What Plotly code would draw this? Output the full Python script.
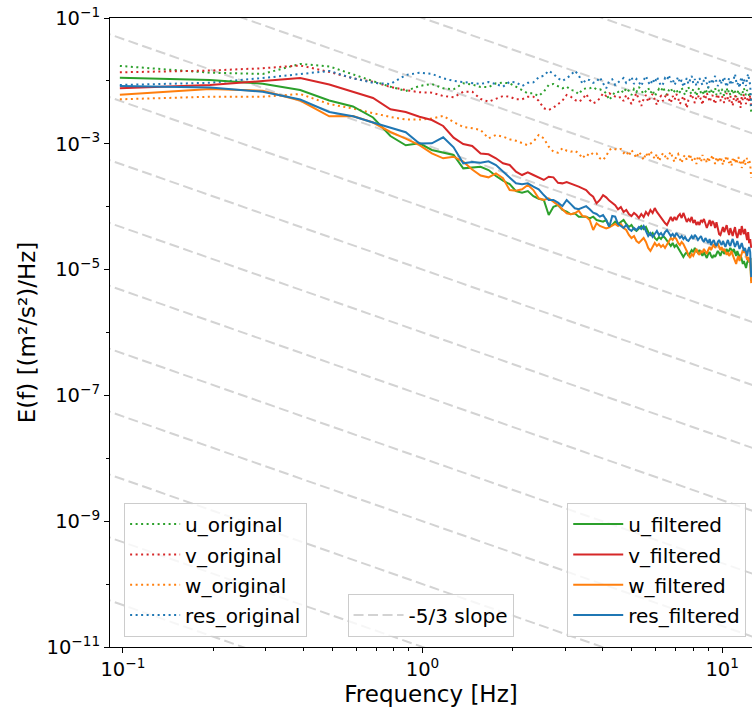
import plotly.graph_objects as go

# ---------------- data ----------------
FREQ_HZ = [
    0.0977, 0.1953, 0.2930, 0.3906, 0.4883, 0.5859, 0.6836, 0.7813, 0.8789, 0.9766,
    1.0742, 1.1719, 1.2695, 1.3672, 1.4648, 1.5625, 1.6602, 1.7578, 1.8555, 1.9531,
    2.0508, 2.1484, 2.2461, 2.3438, 2.4414, 2.5391, 2.6367, 2.7344, 2.8320, 2.9297,
    3.0273, 3.1250, 3.2227, 3.3203, 3.4180, 3.5156, 3.6133, 3.7109, 3.8086, 3.9063,
    4.0039, 4.1016, 4.1992, 4.2969, 4.3945, 4.4922, 4.5898, 4.6875, 4.7852, 4.8828,
    4.9805, 5.0781, 5.1758, 5.2734, 5.3711, 5.4688, 5.5664, 5.6641, 5.7617, 5.8594,
    5.9570, 6.0547, 6.1523, 6.2500, 6.3477, 6.4453, 6.5430, 6.6406, 6.7383, 6.8359,
    6.9336, 7.0313, 7.1289, 7.2266, 7.3242, 7.4219, 7.5195, 7.6172, 7.7148, 7.8125,
    7.9102, 8.0078, 8.1055, 8.2031, 8.3008, 8.3984, 8.4961, 8.5938, 8.6914, 8.7891,
    8.8867, 8.9844, 9.0820, 9.1797, 9.2773, 9.3750, 9.4727, 9.5703, 9.6680, 9.7656,
    9.8633, 9.9609, 10.0586, 10.1563, 10.2539, 10.3516, 10.4492, 10.5469, 10.6445, 10.7422,
    10.8398, 10.9375, 11.0352, 11.1328, 11.2305, 11.3281, 11.4258, 11.5234, 11.6211, 11.7188,
    11.8164, 11.9141, 12.0117, 12.1094, 12.2070, 12.3047, 12.4023, 12.5000,
]

U_ORIGINAL = [
    1.73e-2, 1.35e-2, 1.29e-2, 1.86e-2, 1.70e-2, 1.29e-2, 9.93e-3, 8.09e-3, 6.91e-3, 8.30e-3,
    8.93e-3, 7.63e-3, 7.35e-3, 9.16e-3, 8.77e-3, 8.01e-3, 7.96e-3, 9.16e-3, 9.37e-3, 9.16e-3,
    8.09e-3, 7.17e-3, 6.35e-3, 6.35e-3, 5.75e-3, 6.74e-3, 8.61e-3, 8.93e-3, 8.30e-3, 7.63e-3,
    8.09e-3, 7.17e-3, 6.99e-3, 6.12e-3, 7.35e-3, 7.63e-3, 7.63e-3, 7.96e-3, 7.35e-3, 7.35e-3,
    6.99e-3, 6.35e-3, 4.97e-3, 5.75e-3, 6.74e-3, 6.65e-3,
    7.17e-3, 6.42e-3, 7.72e-3, 6.91e-3, 5.97e-3, 7.44e-3, 6.66e-3, 8.01e-3, 7.17e-3,
    6.19e-3, 6.91e-3, 7.72e-3, 6.42e-3, 7.17e-3, 5.75e-3, 6.66e-3, 7.44e-3, 6.91e-3,
    8.01e-3, 6.66e-3, 5.97e-3, 7.17e-3, 7.72e-3, 6.42e-3, 6.91e-3, 7.44e-3, 6.19e-3, 6.66e-3, 7.72e-3,
    6.91e-3, 5.97e-3, 7.17e-3, 8.01e-3, 6.66e-3, 6.19e-3, 7.44e-3, 6.91e-3, 5.75e-3, 7.17e-3,
    7.72e-3, 6.42e-3, 6.91e-3, 5.97e-3, 7.44e-3, 6.66e-3, 8.01e-3, 6.42e-3, 7.17e-3, 6.19e-3,
    6.91e-3, 7.72e-3, 5.97e-3, 6.66e-3, 7.17e-3, 6.19e-3, 7.44e-3, 6.66e-3, 5.75e-3, 6.91e-3,
    7.72e-3, 6.42e-3, 7.17e-3, 5.97e-3, 6.66e-3, 7.44e-3, 6.19e-3, 6.91e-3, 5.55e-3, 6.42e-3,
    7.17e-3, 6.19e-3, 6.66e-3, 5.75e-3, 6.91e-3, 7.72e-3, 6.42e-3, 5.97e-3, 7.17e-3, 6.66e-3,
    5.75e-3, 6.42e-3, 3.09e-3,
]

V_ORIGINAL = [
    1.37e-2, 1.46e-2, 1.59e-2, 1.76e-2, 1.39e-2, 1.10e-2, 9.68e-3, 8.01e-3, 7.17e-3, 6.59e-3,
    6.50e-3, 5.75e-3, 5.49e-3, 6.74e-3, 6.74e-3, 5.16e-3, 4.67e-3, 5.16e-3, 5.75e-3, 5.60e-3,
    5.10e-3, 5.10e-3, 5.60e-3, 5.60e-3, 4.85e-3, 3.67e-3, 3.45e-3, 3.75e-3, 4.25e-3, 4.85e-3,
    5.97e-3, 5.60e-3, 4.97e-3, 4.67e-3, 5.10e-3, 6.19e-3, 4.97e-3, 4.40e-3, 4.67e-3, 5.30e-3,
    6.35e-3, 5.75e-3, 6.35e-3, 5.97e-3, 5.60e-3, 5.35e-3,
    5.55e-3, 4.79e-3, 5.97e-3, 5.16e-3, 4.29e-3, 5.35e-3, 6.42e-3, 4.97e-3, 3.99e-3,
    5.16e-3, 5.97e-3, 4.62e-3, 5.55e-3, 6.19e-3, 4.97e-3, 4.14e-3, 5.35e-3, 5.75e-3,
    4.79e-3, 5.55e-3, 6.42e-3, 5.16e-3, 4.45e-3, 5.75e-3, 4.97e-3, 6.19e-3, 5.35e-3, 4.29e-3, 5.16e-3,
    5.75e-3, 4.79e-3, 3.71e-3, 4.97e-3, 5.55e-3, 6.19e-3, 5.16e-3, 4.45e-3, 5.55e-3, 5.97e-3,
    4.97e-3, 5.35e-3, 4.14e-3, 5.75e-3, 5.16e-3, 6.42e-3, 5.55e-3, 4.62e-3, 5.35e-3, 5.97e-3,
    4.97e-3, 4.29e-3, 5.55e-3, 6.19e-3, 5.16e-3, 4.79e-3, 5.75e-3, 5.35e-3, 4.45e-3, 5.55e-3,
    6.42e-3, 5.16e-3, 4.62e-3, 5.75e-3, 4.97e-3, 3.99e-3, 5.35e-3, 5.97e-3, 4.79e-3, 5.55e-3,
    4.45e-3, 5.16e-3, 3.71e-3, 5.75e-3, 4.97e-3, 6.19e-3, 5.35e-3, 4.29e-3, 4.97e-3, 5.55e-3,
    4.79e-3, 5.97e-3, 3.71e-3,
]

W_ORIGINAL = [
    5.10e-3, 5.60e-3, 5.60e-3, 6.19e-3, 4.29e-3, 3.64e-3, 3.07e-3, 2.67e-3, 2.43e-3, 2.43e-3,
    2.52e-3, 2.77e-3, 2.22e-3, 1.85e-3, 1.77e-3, 1.66e-3, 1.22e-3, 1.38e-3, 1.30e-3, 1.18e-3,
    1.12e-3, 1.02e-3, 9.46e-4, 1.08e-3, 1.38e-3, 1.22e-3, 9.00e-4, 7.49e-4, 7.22e-4, 8.48e-4,
    7.77e-4, 7.49e-4, 7.77e-4, 7.06e-4, 5.88e-4, 6.89e-4, 6.40e-4, 7.22e-4, 7.06e-4, 5.88e-4,
    5.53e-4, 6.40e-4, 7.97e-4, 8.48e-4, 8.17e-4, 7.97e-4,
    8.27e-4, 7.14e-4, 7.68e-4, 6.40e-4, 7.97e-4, 6.89e-4, 5.95e-4, 7.41e-4, 6.64e-4,
    5.53e-4, 7.14e-4, 6.17e-4, 7.68e-4, 6.64e-4, 5.74e-4, 6.89e-4, 5.33e-4, 6.17e-4,
    7.14e-4, 6.40e-4, 5.53e-4, 6.64e-4, 7.41e-4, 5.95e-4, 5.14e-4, 6.40e-4, 6.89e-4, 5.74e-4, 4.96e-4,
    6.17e-4, 6.64e-4, 5.53e-4, 5.95e-4, 6.89e-4, 5.33e-4, 6.17e-4, 5.74e-4, 4.78e-4, 6.40e-4,
    5.95e-4, 5.14e-4, 6.64e-4, 5.53e-4, 5.95e-4, 4.96e-4, 6.17e-4, 5.33e-4, 5.74e-4, 6.64e-4,
    5.53e-4, 4.78e-4, 5.95e-4, 5.33e-4, 6.17e-4, 5.14e-4, 5.74e-4, 4.60e-4, 5.53e-4, 6.17e-4,
    5.33e-4, 5.95e-4, 4.96e-4, 5.53e-4, 4.44e-4, 5.74e-4, 5.14e-4, 5.95e-4, 4.78e-4, 5.33e-4,
    6.17e-4, 4.96e-4, 5.53e-4, 4.13e-4, 5.14e-4, 5.74e-4, 4.60e-4, 5.33e-4, 5.95e-4, 4.96e-4,
    5.53e-4, 4.78e-4, 2.86e-4,
]

RES_ORIGINAL = [
    8.61e-3, 9.33e-3, 1.11e-2, 1.29e-2, 1.44e-2, 1.10e-2, 9.33e-3, 8.93e-3, 1.24e-2, 1.35e-2,
    1.29e-2, 1.10e-2, 1.00e-2, 9.58e-3, 9.16e-3, 8.93e-3, 9.58e-3, 8.93e-3, 8.09e-3, 9.68e-3,
    9.47e-3, 8.30e-3, 9.33e-3, 9.47e-3, 1.14e-2, 1.21e-2, 1.45e-2, 1.29e-2, 1.10e-2, 1.00e-2,
    1.10e-2, 1.24e-2, 1.45e-2, 1.24e-2, 8.93e-3, 1.06e-2, 1.03e-2, 9.33e-3, 9.68e-3, 1.14e-2,
    9.16e-3, 7.63e-3, 1.00e-2, 1.06e-2, 8.61e-3, 9.58e-3,
    1.03e-2, 1.11e-2, 9.23e-3, 9.93e-3, 1.16e-2, 8.93e-3, 1.07e-2, 9.58e-3, 8.30e-3,
    1.03e-2, 1.20e-2, 9.58e-3, 8.61e-3, 1.07e-2, 9.23e-3, 1.16e-2, 9.93e-3, 8.30e-3,
    8.93e-3, 1.11e-2, 1.03e-2, 1.24e-2, 9.58e-3, 1.07e-2, 8.61e-3, 9.93e-3, 1.16e-2, 9.23e-3, 1.03e-2,
    8.01e-3, 9.58e-3, 1.11e-2, 8.93e-3, 1.03e-2, 1.20e-2, 9.23e-3, 1.07e-2, 8.30e-3, 9.93e-3,
    1.11e-2, 9.58e-3, 8.61e-3, 1.03e-2, 1.16e-2, 9.23e-3, 7.72e-3, 9.93e-3, 1.07e-2, 8.93e-3,
    1.03e-2, 1.20e-2, 9.58e-3, 8.30e-3, 9.23e-3, 1.07e-2, 8.93e-3, 9.93e-3, 1.16e-2, 9.23e-3,
    8.01e-3, 9.58e-3, 1.11e-2, 8.61e-3, 1.03e-2, 9.23e-3, 1.07e-2, 1.29e-2, 9.93e-3, 8.61e-3,
    9.58e-3, 7.72e-3, 1.03e-2, 1.16e-2, 8.93e-3, 1.07e-2, 9.23e-3, 8.30e-3, 1.11e-2, 1.29e-2,
    1.03e-2, 8.61e-3, 3.99e-3,
]

U_FILTERED = [
    1.12e-2, 1.03e-2, 9.03e-3, 7.17e-3, 4.88e-3, 3.92e-3, 2.62e-3, 1.33e-3, 9.46e-4, 1.02e-3,
    7.97e-4, 7.22e-4, 6.64e-4, 4.07e-4, 4.20e-4, 4.32e-4, 3.83e-4, 3.07e-4, 2.59e-4, 2.29e-4,
    1.77e-4, 1.67e-4, 1.77e-4, 1.47e-4, 1.34e-4, 1.28e-4, 7.38e-5, 9.96e-5, 1.06e-4, 8.87e-5,
    8.34e-5, 7.57e-5, 7.85e-5, 6.94e-5, 6.94e-5, 6.94e-5, 6.54e-5, 6.94e-5, 6.15e-5, 6.00e-5,
    5.78e-5, 6.15e-5, 4.81e-5, 5.12e-5, 5.78e-5, 5.31e-5,
    5.72e-5, 6.15e-5, 5.31e-5, 4.76e-5, 5.12e-5, 4.42e-5, 4.11e-5, 4.59e-5, 4.94e-5,
    4.42e-5, 4.76e-5, 3.96e-5, 3.55e-5, 3.82e-5, 3.18e-5, 2.96e-5, 3.30e-5, 3.07e-5,
    3.42e-5, 3.18e-5, 2.85e-5, 2.55e-5, 2.37e-5, 2.65e-5, 2.29e-5, 2.46e-5, 2.21e-5, 1.98e-5, 1.71e-5,
    1.59e-5, 1.77e-5, 1.90e-5, 1.65e-5, 1.84e-5, 2.05e-5, 1.90e-5, 2.21e-5, 1.98e-5, 1.84e-5,
    2.05e-5, 1.77e-5, 1.65e-5, 1.90e-5, 1.71e-5, 1.53e-5, 1.77e-5, 1.90e-5, 1.65e-5, 1.53e-5,
    1.71e-5, 1.59e-5, 1.77e-5, 1.98e-5, 1.84e-5, 1.65e-5, 1.90e-5, 2.05e-5, 1.77e-5, 1.90e-5,
    2.13e-5, 1.84e-5, 1.98e-5, 2.21e-5, 2.05e-5, 1.90e-5, 2.13e-5, 1.84e-5, 1.65e-5, 1.98e-5,
    1.77e-5, 1.53e-5, 1.71e-5, 1.42e-5, 1.23e-5, 1.37e-5, 1.14e-5, 1.06e-5, 1.28e-5, 1.42e-5,
    1.32e-5, 1.53e-5, 6.6e-6,
]

V_FILTERED = [
    7.63e-3, 8.61e-3, 9.93e-3, 1.11e-2, 8.77e-3, 6.79e-3, 5.35e-3, 3.54e-3, 3.21e-3, 2.70e-3,
    2.39e-3, 1.92e-3, 1.25e-3, 9.93e-4, 9.23e-4, 7.01e-4, 6.81e-4, 5.88e-4, 4.89e-4, 4.60e-4,
    3.60e-4, 3.19e-4, 3.52e-4, 3.19e-4, 2.93e-4, 2.66e-4, 3.00e-4, 2.93e-4, 2.40e-4, 2.35e-4,
    2.47e-4, 2.35e-4, 2.19e-4, 2.08e-4, 1.96e-4, 1.84e-4, 1.59e-4, 1.44e-4, 1.13e-4, 1.28e-4,
    1.53e-4, 1.41e-4, 1.25e-4, 1.16e-4, 1.06e-4, 9.10e-5,
    9.86e-5, 8.25e-5, 8.87e-5, 7.66e-5, 7.11e-5, 7.95e-5, 7.38e-5, 6.61e-5, 7.66e-5,
    6.86e-5, 8.25e-5, 7.38e-5, 8.87e-5, 7.95e-5, 9.50e-5, 8.25e-5, 7.38e-5, 6.61e-5,
    6.15e-5, 5.51e-5, 5.12e-5, 6.15e-5, 6.86e-5, 5.93e-5, 6.86e-5, 6.15e-5, 7.11e-5, 7.66e-5, 6.61e-5,
    7.95e-5, 6.61e-5, 5.72e-5, 6.38e-5, 5.93e-5, 6.86e-5, 5.51e-5, 6.15e-5, 5.12e-5, 5.72e-5,
    5.12e-5, 6.15e-5, 5.72e-5, 6.38e-5, 5.31e-5, 4.59e-5, 5.31e-5, 6.15e-5, 4.94e-5, 5.93e-5,
    5.49e-5, 4.57e-5, 5.69e-5, 4.25e-5, 3.67e-5, 3.54e-5, 4.10e-5, 4.75e-5, 3.95e-5, 4.41e-5,
    5.10e-5, 4.10e-5, 3.54e-5, 4.57e-5, 3.81e-5, 3.41e-5, 4.10e-5, 4.75e-5, 3.67e-5, 3.17e-5,
    3.81e-5, 4.41e-5, 3.54e-5, 4.92e-5, 4.10e-5, 3.67e-5, 4.41e-5, 3.29e-5, 2.95e-5, 3.95e-5,
    2.64e-5, 3.05e-5, 2.21e-5,
]

W_FILTERED = [
    6.04e-3, 7.44e-3, 6.99e-3, 4.88e-3, 2.74e-3, 2.77e-3, 2.18e-3, 1.54e-3, 1.21e-3, 9.50e-4,
    7.06e-4, 5.88e-4, 6.24e-4, 5.20e-4, 3.90e-4, 3.13e-4, 2.93e-4, 3.39e-4, 2.83e-4, 1.84e-4,
    1.79e-4, 1.89e-4, 2.21e-4, 1.84e-4, 1.36e-4, 1.28e-4, 1.36e-4, 1.20e-4, 1.06e-4, 9.10e-5,
    7.85e-5, 7.57e-5, 7.85e-5, 8.65e-5, 7.11e-5, 6.94e-5, 6.15e-5, 4.26e-5, 5.45e-5, 4.94e-5,
    4.71e-5, 4.53e-5, 4.71e-5, 4.94e-5, 5.31e-5, 4.94e-5,
    5.31e-5, 4.59e-5, 4.26e-5, 3.55e-5, 3.18e-5, 3.42e-5, 2.85e-5, 2.65e-5, 2.96e-5,
    3.18e-5, 2.75e-5, 2.21e-5, 1.98e-5, 2.37e-5, 2.65e-5, 2.37e-5, 2.55e-5, 2.29e-5,
    2.46e-5, 2.21e-5, 2.55e-5, 2.85e-5, 3.18e-5, 2.96e-5, 3.30e-5, 3.07e-5, 2.65e-5, 2.46e-5, 2.75e-5,
    2.55e-5, 2.29e-5, 1.98e-5, 1.71e-5, 1.53e-5, 1.77e-5, 1.65e-5, 1.90e-5, 2.13e-5, 1.84e-5,
    1.71e-5, 1.98e-5, 1.84e-5, 2.13e-5, 1.90e-5, 1.77e-5, 2.05e-5, 2.29e-5, 2.05e-5, 2.37e-5,
    2.55e-5, 2.21e-5, 2.37e-5, 2.65e-5, 2.29e-5, 2.05e-5, 2.29e-5, 1.98e-5, 2.13e-5, 1.84e-5,
    1.71e-5, 1.90e-5, 1.65e-5, 1.77e-5, 1.98e-5, 1.71e-5, 1.53e-5, 1.32e-5, 1.23e-5, 1.48e-5,
    1.65e-5, 1.37e-5, 1.53e-5, 1.77e-5, 2.05e-5, 1.84e-5, 2.13e-5, 1.71e-5, 1.42e-5, 1.59e-5,
    1.32e-5, 1.53e-5, 6.1e-6,
]

RES_FILTERED = [
    8.30e-3, 7.86e-3, 6.74e-3, 5.05e-3, 3.21e-3, 2.74e-3, 2.18e-3, 1.82e-3, 1.53e-3, 1.01e-3,
    1.02e-3, 1.27e-3, 8.80e-4, 4.89e-4, 5.14e-4, 4.98e-4, 5.27e-4, 4.60e-4, 3.60e-4, 2.83e-4,
    2.35e-4, 2.27e-4, 2.35e-4, 2.08e-4, 1.89e-4, 1.53e-4, 1.28e-4, 1.28e-4, 1.16e-4, 1.02e-4,
    1.28e-4, 1.10e-4, 9.44e-5, 9.10e-5, 9.74e-5, 1.02e-4, 9.10e-5, 8.04e-5, 7.66e-5, 6.94e-5,
    7.38e-5, 6.15e-5, 4.81e-5, 7.11e-5, 6.94e-5, 5.31e-5,
    4.94e-5, 4.59e-5, 5.12e-5, 4.42e-5, 4.11e-5, 4.59e-5, 4.26e-5, 4.76e-5, 4.42e-5,
    4.94e-5, 4.11e-5, 3.42e-5, 3.82e-5, 3.30e-5, 3.68e-5, 4.11e-5, 3.55e-5, 3.82e-5,
    3.42e-5, 3.96e-5, 4.26e-5, 3.82e-5, 3.42e-5, 3.68e-5, 3.30e-5, 3.82e-5, 3.55e-5, 3.18e-5, 3.42e-5,
    3.07e-5, 3.30e-5, 2.96e-5, 2.85e-5, 3.18e-5, 3.42e-5, 3.07e-5, 3.55e-5, 3.30e-5, 2.96e-5,
    3.18e-5, 3.42e-5, 2.96e-5, 2.75e-5, 3.18e-5, 2.85e-5, 2.65e-5, 3.07e-5, 2.46e-5, 2.75e-5,
    2.96e-5, 2.55e-5, 2.37e-5, 2.75e-5, 2.96e-5, 2.65e-5, 2.46e-5, 2.85e-5, 2.55e-5, 2.29e-5,
    2.65e-5, 2.96e-5, 2.55e-5, 2.37e-5, 2.75e-5, 3.07e-5, 2.65e-5, 2.29e-5, 2.55e-5, 2.85e-5,
    2.46e-5, 2.13e-5, 2.37e-5, 2.65e-5, 2.29e-5, 1.98e-5, 2.21e-5, 1.77e-5, 1.65e-5, 2.05e-5,
    2.29e-5, 1.90e-5, 7.6e-6,
]

# -5/3 reference lines: E = C * f^(-5/3), one line per decade of C
SLOPE_CONSTANTS = [1e0, 1e-1, 1e-2, 1e-3, 1e-4, 1e-5, 1e-6, 1e-7,
                   1e-8, 1e-9, 1e-10, 1e-11, 1e-12, 1e-13, 1e-14]
SLOPE_F_ENDS = [0.05, 20.0]

X_TICK_VALUES = [0.1, 1.0, 10.0]
X_TICK_TEXT = ["10<sup>\u22121</sup>", "10<sup>0</sup>", "10<sup>1</sup>"]
X_MINOR_VALUES = [0.2, 0.3, 0.4, 0.5, 0.6, 0.7, 0.8, 0.9, 2, 3, 4, 5, 6, 7, 8, 9]
Y_TICK_VALUES = [1e-11, 1e-9, 1e-7, 1e-5, 1e-3, 1e-1]
Y_TICK_TEXT = ["10<sup>\u221211</sup>", "10<sup>\u22129</sup>", "10<sup>\u22127</sup>",
               "10<sup>\u22125</sup>", "10<sup>\u22123</sup>", "10<sup>\u22121</sup>"]
Y_MINOR_VALUES = [1e-10, 1e-8, 1e-6, 1e-4, 1e-2]

# ---------------- styling ----------------
GREEN, RED, ORANGE, BLUE = "#2ca02c", "#d62728", "#ff7f0e", "#1f77b4"
FONT = "DejaVu Sans"
FS = 19.5          # tick labels
FS_TITLE = 23      # axis titles
FS_LEG_TEXT = 20   # legend text
FS_LEG_ROW = 21    # sets legend row pitch
DOT = "2px,3.5px"


def leg_name(s):
    return '<span style="font-size:%spx">%s</span>' % (FS_LEG_TEXT, s)


fig = go.Figure()

# guide lines first (behind the spectra)
for i, c in enumerate(SLOPE_CONSTANTS):
    fig.add_trace(go.Scatter(
        x=SLOPE_F_ENDS, y=[c * f ** (-5.0 / 3.0) for f in SLOPE_F_ENDS],
        mode="lines", line=dict(color="#d3d3d3", width=2, dash="10px,4.5px"),
        name=leg_name("-5/3 slope"), legend="legend2", showlegend=(i == 0),
        hoverinfo="skip"))

originals = [("u_original", U_ORIGINAL, GREEN), ("v_original", V_ORIGINAL, RED),
             ("w_original", W_ORIGINAL, ORANGE), ("res_original", RES_ORIGINAL, BLUE)]
filtered = [("u_filtered", U_FILTERED, GREEN), ("v_filtered", V_FILTERED, RED),
            ("w_filtered", W_FILTERED, ORANGE), ("res_filtered", RES_FILTERED, BLUE)]

for name, vals, col in originals:
    fig.add_trace(go.Scatter(x=FREQ_HZ, y=vals, mode="lines", name=leg_name(name),
                             line=dict(color=col, width=2, dash=DOT), legend="legend"))
for name, vals, col in filtered:
    fig.add_trace(go.Scatter(x=FREQ_HZ, y=vals, mode="lines", name=leg_name(name),
                             line=dict(color=col, width=2), legend="legend3"))

legend_common = dict(bgcolor="rgba(255,255,255,0.8)", bordercolor="#cccccc", borderwidth=1,
                     font=dict(family=FONT, size=FS_LEG_ROW, color="black"), itemwidth=50,
                     yanchor="bottom", y=0.016, tracegroupgap=0)

fig.update_layout(
    width=752, height=713,
    margin=dict(l=110, r=0, t=18, b=66),
    paper_bgcolor="white", plot_bgcolor="white",
    font=dict(family=FONT, size=FS, color="black"),
    showlegend=True,
    legend=dict(**legend_common, x=0.022, xanchor="left"),
    legend2=dict(**legend_common, x=0.370, xanchor="left"),
    legend3=dict(**legend_common, x=0.991, xanchor="right"),
    xaxis=dict(type="log", range=[-1.043, 1.0995], showgrid=False, zeroline=False,
               showline=True, linecolor="black", linewidth=1, mirror=True,
               ticks="outside", ticklen=5, tickwidth=1, tickcolor="black",
               tickmode="array", tickvals=X_TICK_VALUES, ticktext=X_TICK_TEXT,
               tickfont=dict(family=FONT, size=FS, color="black"),
               minor=dict(tickmode="array", tickvals=X_MINOR_VALUES, ticks="outside",
                          ticklen=3, tickwidth=1, tickcolor="black", showgrid=False),
               title=dict(text="Frequency [Hz]", font=dict(family=FONT, size=FS_TITLE),
                          standoff=5)),
    yaxis=dict(type="log", range=[-11, -1], showgrid=False, zeroline=False,
               showline=True, linecolor="black", linewidth=1, mirror=False,
               ticks="outside", ticklen=5, tickwidth=1, tickcolor="black",
               tickmode="array", tickvals=Y_TICK_VALUES, ticktext=Y_TICK_TEXT,
               tickfont=dict(family=FONT, size=FS, color="black"),
               minor=dict(tickmode="array", tickvals=Y_MINOR_VALUES, ticks="outside",
                          ticklen=3, tickwidth=1, tickcolor="black", showgrid=False),
               title=dict(text="E(f) [(m\u00b2/s\u00b2)/Hz]", font=dict(family=FONT, size=FS_TITLE),
                          standoff=4)),
)

fig.write_html("out.html")
